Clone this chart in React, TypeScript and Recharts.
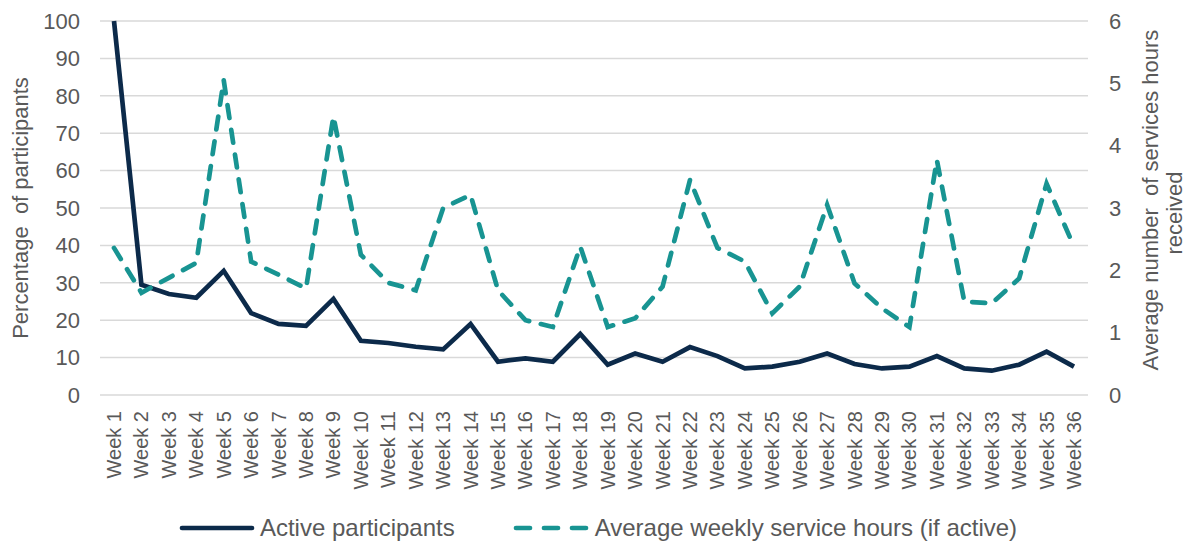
import React from 'react';
import { LineChart, Line, XAxis, YAxis, CartesianGrid, Legend } from 'recharts';

const weeks = [
  'Week 1', 'Week 2', 'Week 3', 'Week 4', 'Week 5', 'Week 6', 'Week 7', 'Week 8', 'Week 9',
  'Week 10', 'Week 11', 'Week 12', 'Week 13', 'Week 14', 'Week 15', 'Week 16', 'Week 17', 'Week 18',
  'Week 19', 'Week 20', 'Week 21', 'Week 22', 'Week 23', 'Week 24', 'Week 25', 'Week 26', 'Week 27',
  'Week 28', 'Week 29', 'Week 30', 'Week 31', 'Week 32', 'Week 33', 'Week 34', 'Week 35', 'Week 36',
];

const activeParticipants = [
  100, 29.5, 27, 26, 33.2, 21.9, 19, 18.5, 25.7, 14.5, 13.9, 12.9, 12.2, 19, 8.9, 9.8, 8.9, 16.3,
  8.1, 11.1, 8.9, 12.8, 10.4, 7.1, 7.6, 8.9, 11.1, 8.3, 7.1, 7.6, 10.4, 7.1, 6.5, 8.1, 11.6, 7.6,
];

const serviceHours = [
  2.36, 1.64, 1.88, 2.12, 5.05, 2.14, 1.93, 1.71, 4.47, 2.25, 1.8, 1.68, 3.0, 3.21, 1.68, 1.2, 1.09, 2.38,
  1.09, 1.23, 1.74, 3.45, 2.36, 2.14, 1.31, 1.74, 3.05, 1.79, 1.39, 1.09, 3.77, 1.5, 1.47, 1.87, 3.39, 2.38,
];

const leftTicks = [0, 10, 20, 30, 40, 50, 60, 70, 80, 90, 100];
const rightTicks = [0, 1, 2, 3, 4, 5, 6];

const seriesNames = ['Active participants', 'Average weekly service hours (if active)'];

const data = weeks.map((w, i) => ({
  week: w,
  active: activeParticipants[i],
  hours: serviceHours[i],
}));

const NAVY = '#0c2a4a';
const TEAL = '#189492';
const TEXT = '#595959';
const FONT = '"Liberation Sans", Arial, sans-serif';

const XTick = (props: any) => {
  const { x, y, payload } = props;
  return (
    <text
      x={x}
      y={y}
      transform={`rotate(-90, ${x}, ${y})`}
      textAnchor="end"
      dy="0.35em"
      fill={TEXT}
      fontSize={20}
      fontFamily={FONT}
    >
      {payload.value}
    </text>
  );
};

const LeftTitle = (props: any) => {
  const vb = props.viewBox || { x: 0, y: 0, width: 100, height: 374 };
  const cx = vb.x + 20;
  const cy = vb.y + vb.height / 2;
  return (
    <text
      x={cx}
      y={cy}
      transform={`rotate(-90, ${cx}, ${cy})`}
      textAnchor="middle"
      dominantBaseline="central"
      fill={TEXT}
      fontSize={22}
      fontFamily={FONT}
    >
      {'Percentage\u00a0 of participants'}
    </text>
  );
};

const RightTitle = (props: any) => {
  const vb = props.viewBox || { x: 1088, y: 21, width: 97, height: 374 };
  const x1 = vb.x + 62;
  const y1 = vb.y + vb.height / 2 - 8;
  const x2 = vb.x + 86;
  const y2 = vb.y + vb.height / 2 + 5;
  return (
    <g>
      <text
        x={x1}
        y={y1}
        transform={`rotate(-90, ${x1}, ${y1})`}
        textAnchor="middle"
        dominantBaseline="central"
        fill={TEXT}
        fontSize={22}
        fontFamily={FONT}
      >
        {'Average number\u00a0 of services hours'}
      </text>
      <text
        x={x2}
        y={y2}
        transform={`rotate(-90, ${x2}, ${y2})`}
        textAnchor="middle"
        dominantBaseline="central"
        fill={TEXT}
        fontSize={22}
        fontFamily={FONT}
      >
        received
      </text>
    </g>
  );
};

const LegendContent = () => (
  <div
    style={{
      height: 40,
      display: 'flex',
      justifyContent: 'center',
      alignItems: 'flex-start',
      fontFamily: FONT,
      fontSize: 24,
      color: TEXT,
      paddingLeft: 11,
      boxSizing: 'border-box',
    }}
  >
    <div style={{ display: 'flex', alignItems: 'center', height: 28, marginTop: 11, marginRight: 58 }}>
      <svg width={76} height={10} style={{ marginRight: 5 }}>
        <line x1={3} y1={5} x2={73} y2={5} stroke={NAVY} strokeWidth={4.7} strokeLinecap="round" />
      </svg>
      <span>{seriesNames[0]}</span>
    </div>
    <div style={{ display: 'flex', alignItems: 'center', height: 28, marginTop: 11 }}>
      <svg width={76} height={10} style={{ marginRight: 6 }}>
        <line
          x1={3}
          y1={5}
          x2={73}
          y2={5}
          stroke={TEAL}
          strokeWidth={4.7}
          strokeLinecap="round"
          strokeDasharray="14 14"
        />
      </svg>
      <span>{seriesNames[1]}</span>
    </div>
  </div>
);

export default function App() {
  return (
    <div style={{ position: 'absolute', left: 0, top: 0 }}>
      <LineChart
        width={1185}
        height={543}
        data={data}
        margin={{ top: 21, right: 0, bottom: 0, left: 0 }}
      >
        <CartesianGrid yAxisId="left" horizontal vertical={false} stroke="#d9d9d9" strokeWidth={1.5} />
        <XAxis
          dataKey="week"
          interval={0}
          tick={<XTick />}
          tickLine={false}
          axisLine={false}
          tickSize={6}
          tickMargin={10}
          height={108}
          padding={{ left: 14, right: 14 }}
        />
        <YAxis
          yAxisId="left"
          orientation="left"
          domain={[0, 100]}
          ticks={leftTicks}
          interval={0}
          width={100}
          tickLine={false}
          axisLine={false}
          tickMargin={14}
          tick={{ fill: TEXT, fontSize: 22, fontFamily: FONT }}
          label={<LeftTitle />}
        />
        <YAxis
          yAxisId="right"
          orientation="right"
          domain={[0, 6]}
          ticks={rightTicks}
          interval={0}
          width={97}
          tickLine={false}
          axisLine={false}
          tickMargin={15}
          tick={{ fill: TEXT, fontSize: 22, fontFamily: FONT }}
          label={<RightTitle />}
        />
        <Legend verticalAlign="bottom" content={<LegendContent />} />
        <Line
          yAxisId="left"
          type="linear"
          dataKey="active"
          name={seriesNames[0]}
          stroke={NAVY}
          strokeWidth={4.7}
          dot={false}
          activeDot={false}
          isAnimationActive={false}
        />
        <Line
          yAxisId="right"
          type="linear"
          dataKey="hours"
          name={seriesNames[1]}
          stroke={TEAL}
          strokeWidth={4.7}
          strokeDasharray="13 12"
          strokeLinecap="round"
          dot={false}
          activeDot={false}
          isAnimationActive={false}
        />
      </LineChart>
    </div>
  );
}
